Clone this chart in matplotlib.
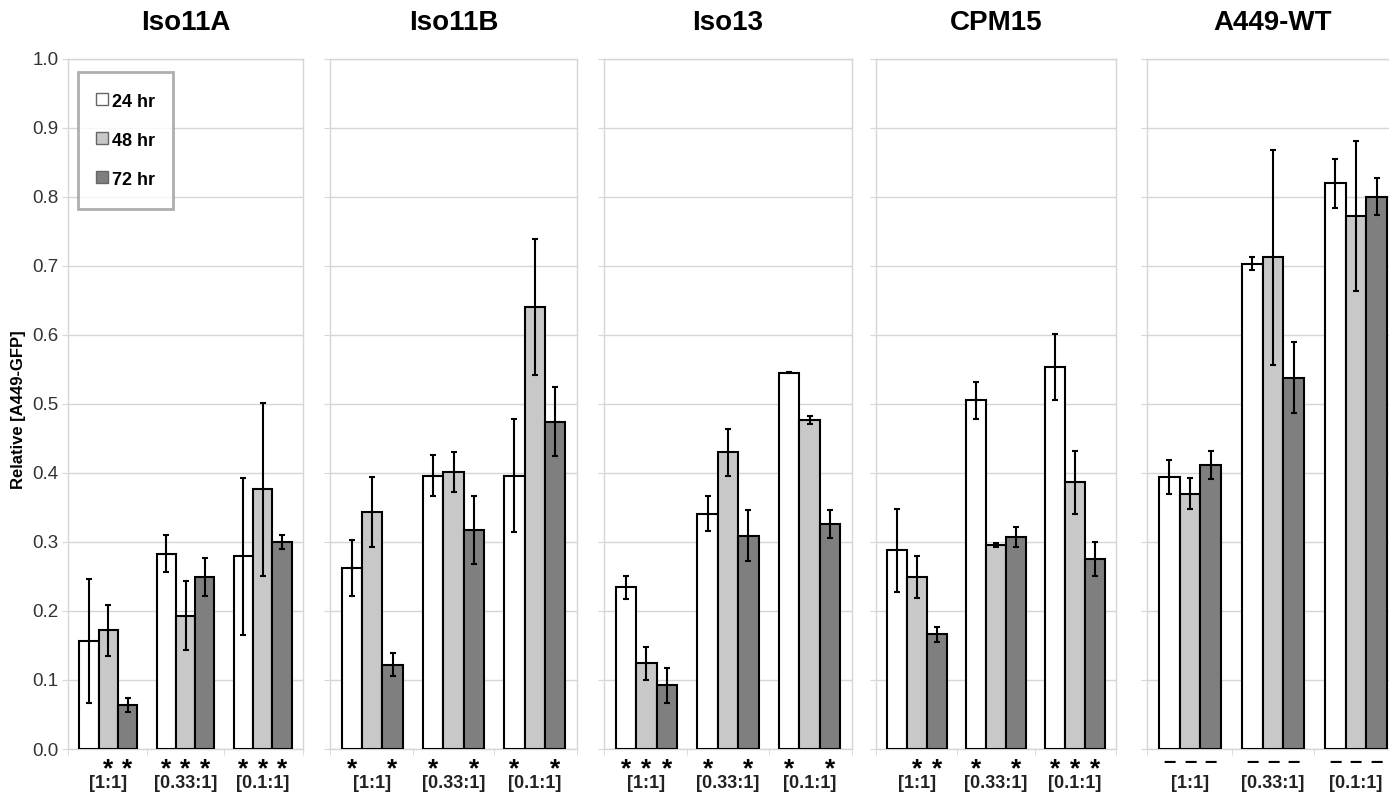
import numpy as np
import matplotlib
matplotlib.use("Agg")
import matplotlib.pyplot as plt
from matplotlib.lines import Line2D

plt.rcParams['font.family'] = ['Liberation Sans', 'DejaVu Sans']

# panels, dilution ratios and time points
panels = ["Iso11A", "Iso11B", "Iso13", "CPM15", "A449-WT"]
ratios = ["[1:1]", "[0.33:1]", "[0.1:1]"]
times = ["24 hr", "48 hr", "72 hr"]

# rows = time point (24, 48, 72 hr), columns = ratio
iso11a_mean = [[0.156, 0.283, 0.279], [0.172, 0.193, 0.376], [0.064, 0.249, 0.300]]
iso11a_err = [[0.090, 0.027, 0.114], [0.037, 0.050, 0.125], [0.010, 0.028, 0.010]]
iso11a_sig = [" **", "***", "***"]

iso11b_mean = [[0.262, 0.396, 0.396], [0.343, 0.401, 0.640], [0.122, 0.317, 0.474]]
iso11b_err = [[0.040, 0.030, 0.082], [0.051, 0.029, 0.098], [0.017, 0.049, 0.050]]
iso11b_sig = ["* *", "* *", "* *"]

iso13_mean = [[0.234, 0.341, 0.545], [0.124, 0.430, 0.476], [0.092, 0.309, 0.326]]
iso13_err = [[0.017, 0.025, 0.001], [0.024, 0.034, 0.006], [0.025, 0.037, 0.020]]
iso13_sig = ["***", "* *", "* *"]

cpm15_mean = [[0.288, 0.505, 0.553], [0.249, 0.296, 0.386], [0.166, 0.307, 0.275]]
cpm15_err = [[0.060, 0.027, 0.048], [0.031, 0.003, 0.046], [0.011, 0.014, 0.025]]
cpm15_sig = [" **", "* *", "***"]

wt_mean = [[0.394, 0.703, 0.819], [0.370, 0.712, 0.772], [0.411, 0.538, 0.800]]
wt_err = [[0.024, 0.010, 0.035], [0.022, 0.156, 0.108], [0.020, 0.052, 0.027]]
wt_sig = ["---", "---", "---"]

all_mean = [iso11a_mean, iso11b_mean, iso13_mean, cpm15_mean, wt_mean]
all_err = [iso11a_err, iso11b_err, iso13_err, cpm15_err, wt_err]
all_sig = [iso11a_sig, iso11b_sig, iso13_sig, cpm15_sig, wt_sig]

colors = ['#ffffff', '#c8c8c8', '#7f7f7f']
grid_col = '#d6d6d6'

W, H = 1389, 798
fig = plt.figure(figsize=(W / 100, H / 100), dpi=100)

# panel left edge / width in pixels
panel_px = [(68, 235), (330, 247), (604, 248), (876, 240), (1147, 252)]
bottom = (H - 749) / H
height = 690.5 / H
bw = 0.25
x = np.arange(len(ratios))

for p, name in enumerate(panels):
    left, width = panel_px[p]
    ax = fig.add_axes([left / W, bottom, width / W, height])
    for t in range(3):
        pos = x + (t - 1) * bw
        ax.bar(pos, all_mean[p][t], width=bw, color=colors[t], edgecolor='black',
               linewidth=1.5, zorder=3)
        ax.errorbar(pos, all_mean[p][t], yerr=all_err[p][t], fmt='none', ecolor='black',
                    elinewidth=1.5, capsize=2, capthick=1.5, zorder=4)
        # significance marks under each bar
        for g in range(3):
            s = all_sig[p][g][t]
            if s == '*':
                ax.annotate('*', xy=(pos[g], 0), xycoords=('data', 'axes fraction'),
                            xytext=(0, -19.5), textcoords='offset points',
                            ha='center', va='baseline', fontsize=19, fontweight='bold')
            elif s == '-':
                ax.annotate('\u2013', xy=(pos[g], 0), xycoords=('data', 'axes fraction'),
                            xytext=(0, -13.5), textcoords='offset points',
                            ha='center', va='baseline', fontsize=16, fontweight='bold')

    for g in range(3):
        ax.annotate(ratios[g], xy=(x[g], 0), xycoords=('data', 'axes fraction'),
                    xytext=(0, -24.5), textcoords='offset points',
                    ha='center', va='center', fontsize=13, fontweight='bold', color='#222222')

    ax.set_xlim(-0.52, 2.52)
    ax.set_ylim(0, 1.0)
    ax.set_yticks(np.arange(0, 1.01, 0.1))
    ax.yaxis.grid(True, color=grid_col, linewidth=1)
    ax.set_axisbelow(True)
    ax.set_xticks([])
    ax.set_xticks([-0.52, 0.5, 1.5, 2.52], minor=True)
    ax.tick_params(axis='x', which='minor', length=4, color=grid_col, labelbottom=False)
    ax.tick_params(axis='y', length=4, color=grid_col, labelsize=13.5, labelcolor='#333333',
                   pad=3)
    if p > 0:
        ax.tick_params(axis='y', labelleft=False)
    else:
        ax.set_yticklabels(["%.1f" % v for v in np.arange(0, 1.01, 0.1)])
    for sp in ax.spines.values():
        sp.set_color(grid_col)
        sp.set_linewidth(1)

    fig.text((left + width / 2) / W, 1 - 23 / H, name, ha='center', va='center',
             fontsize=20, fontweight='bold')

    if p == 0:
        handles = [Line2D([], [], linestyle='none', marker='s', markersize=8,
                          markerfacecolor=c, markeredgecolor='#666666', markeredgewidth=1)
                   for c in colors]
        leg = ax.legend(handles, times, loc='upper left', bbox_to_anchor=(0.043, 0.981),
                        borderaxespad=0, fancybox=False, handlelength=0.6, handleheight=1.46,
                        handletextpad=0.2, labelspacing=0.96, borderpad=1.05,
                        prop={'size': 13, 'weight': 'bold'})
        leg.get_frame().set_edgecolor('#9a9a9a')
        leg.get_frame().set_linewidth(2)

fig.text(19 / W, 1 - 410 / H, "Relative [A449-GFP]", rotation=90, ha='center',
         va='center', fontsize=12, fontweight='bold')

fig.savefig('out.png', dpi=100)
